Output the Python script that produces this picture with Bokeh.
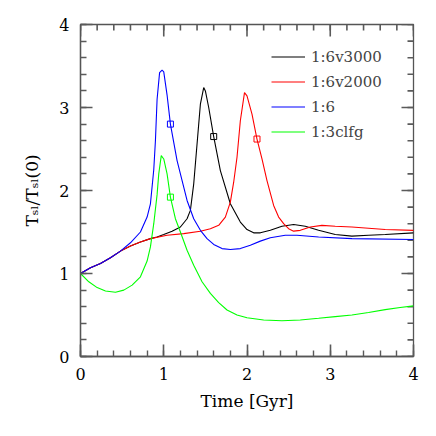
from bokeh.plotting import figure
from bokeh.models import LinearAxis, Range1d, Legend, LegendItem, FixedTicker
from bokeh.embed import file_html
from bokeh.resources import INLINE

# ---- data ----
t_v3000 = [0, 0.12, 0.24, 0.36, 0.48, 0.6, 0.72, 0.84, 0.92, 1.0, 1.1, 1.2, 1.28, 1.32, 1.36, 1.40, 1.44, 1.48,
           1.50, 1.54, 1.60, 1.68, 1.80, 1.92, 2.0, 2.08, 2.16, 2.28, 2.42, 2.56, 2.7, 2.86, 3.06, 3.26, 3.46, 3.66, 4.0]
y_v3000 = [1.0, 1.07, 1.12, 1.19, 1.27, 1.33, 1.38, 1.42, 1.44, 1.47, 1.51, 1.56, 1.66, 1.76, 2.08, 2.56, 3.04, 3.24,
           3.20, 3.0, 2.65, 2.24, 1.84, 1.62, 1.53, 1.49, 1.49, 1.52, 1.57, 1.59, 1.57, 1.52, 1.47, 1.45, 1.46, 1.47, 1.49]

t_v2000 = [0, 0.12, 0.24, 0.36, 0.48, 0.6, 0.72, 0.84, 1.04, 1.24, 1.44, 1.56, 1.66, 1.74, 1.80, 1.84, 1.88, 1.92,
           1.97, 2.0, 2.06, 2.12, 2.18, 2.24, 2.32, 2.38, 2.44, 2.50, 2.56, 2.64, 2.76, 2.9, 3.06, 3.26, 3.66, 4.0]
y_v2000 = [1.0, 1.07, 1.12, 1.19, 1.27, 1.33, 1.38, 1.42, 1.46, 1.48, 1.51, 1.54, 1.58, 1.68, 1.86, 2.1, 2.4, 2.84,
           3.18, 3.14, 2.92, 2.62, 2.38, 2.12, 1.82, 1.68, 1.60, 1.54, 1.51, 1.52, 1.56, 1.58, 1.57, 1.56, 1.53, 1.52]

t_16 = [0, 0.12, 0.24, 0.36, 0.48, 0.6, 0.72, 0.80, 0.84, 0.88, 0.90, 0.92, 0.95, 0.98, 1.0, 1.04, 1.08, 1.16, 1.28,
        1.36, 1.44, 1.52, 1.6, 1.7, 1.8, 1.92, 2.04, 2.16, 2.28, 2.46, 2.6, 2.86, 3.26, 4.0]
y_16 = [1.0, 1.07, 1.12, 1.19, 1.27, 1.37, 1.50, 1.68, 1.84, 2.25, 2.6, 3.1, 3.42, 3.45, 3.43, 3.15, 2.80, 2.36, 1.88,
        1.66, 1.52, 1.42, 1.35, 1.30, 1.29, 1.30, 1.34, 1.39, 1.43, 1.46, 1.46, 1.44, 1.42, 1.41]

t_13 = [0, 0.1, 0.2, 0.3, 0.42, 0.52, 0.62, 0.72, 0.80, 0.84, 0.88, 0.92, 0.94, 0.97, 1.0, 1.04, 1.08, 1.14, 1.2,
        1.28, 1.36, 1.46, 1.56, 1.66, 1.76, 1.88, 2.0, 2.2, 2.42, 2.64, 2.86, 3.06, 3.26, 3.46, 3.66, 3.84, 4.0]
y_13 = [1.0, 0.9, 0.83, 0.79, 0.775, 0.80, 0.86, 0.96, 1.15, 1.32, 1.6, 1.95, 2.2, 2.42, 2.38, 2.2, 1.92, 1.66, 1.50,
        1.28, 1.10, 0.90, 0.76, 0.65, 0.56, 0.50, 0.466, 0.44, 0.43, 0.44, 0.46, 0.48, 0.50, 0.53, 0.565, 0.59, 0.61]

series_names = ["1:6v3000", "1:6v2000", "1:6", "1:3clfg"]
series_colors = ["black", "#ff0000", "#0000ff", "#00ff00"]
marker_t = [1.60, 2.12, 1.08, 1.08]
marker_y = [2.65, 2.62, 2.80, 1.92]

x_ticks = [0, 1, 2, 3, 4]
y_ticks = [0, 1, 2, 3, 4]
minor_ticks = [round(i * 0.2, 2) for i in range(21)]

FONT = "DejaVu Serif"
AXC = "#555555"
TICKC = "#5a5a5a"
X0, X1, Y0, Y1 = 0, 4, 0, 4
W, H = 436, 436
BL, BR, BT, BB = 80, 23, 24, 80

p = figure(width=W, height=H, output_backend="svg", toolbar_location=None,
           x_range=Range1d(X0, X1), y_range=Range1d(Y0, Y1),
           min_border_left=BL, min_border_right=BR, min_border_top=BT, min_border_bottom=BB,
           x_axis_location=None, y_axis_location=None)
p.grid.visible = False
p.outline_line_color = AXC
p.outline_line_width = 1.3
p.background_fill_color = "white"
p.border_fill_color = "white"


def make_axis(ticks, label, standoff):
    ax = LinearAxis(ticker=FixedTicker(ticks=ticks, minor_ticks=minor_ticks))
    ax.major_tick_in = 12
    ax.major_tick_out = 0
    ax.minor_tick_in = 6
    ax.minor_tick_out = 0
    ax.axis_line_color = AXC
    ax.axis_line_width = 1.3
    ax.major_tick_line_color = TICKC
    ax.major_tick_line_width = 1.6
    ax.minor_tick_line_color = TICKC
    ax.minor_tick_line_width = 1.4
    ax.major_label_text_font = FONT
    ax.major_label_text_font_size = "16px"
    ax.major_label_text_color = "black"
    ax.major_label_standoff = 11
    ax.axis_label = label
    ax.axis_label_text_font = FONT
    ax.axis_label_text_font_size = "17px"
    ax.axis_label_text_font_style = "normal"
    ax.axis_label_text_color = "black"
    ax.axis_label_standoff = standoff
    return ax


p.add_layout(make_axis(x_ticks, "Time [Gyr]", 8), "below")
p.add_layout(make_axis(y_ticks, "T\u209b\u2097/T\u209b\u2097(0)", 14), "left")

# inward ticks on the top and right edges, built from the tick lists
FW, FH = W - BL - BR, H - BT - BB
dy = (Y1 - Y0) / FH   # data units per screen pixel (vertical)
dx = (X1 - X0) / FW   # data units per screen pixel (horizontal)
MAJ, MIN = 12, 6
tick_xs, tick_ys = [], []
for vals, ln in ((x_ticks, MAJ), (minor_ticks, MIN)):
    for v in vals:
        tick_xs.append([v, v]); tick_ys.append([Y1, Y1 - ln * dy])
for vals, ln in ((y_ticks, MAJ), (minor_ticks, MIN)):
    for v in vals:
        tick_xs.append([X1, X1 - ln * dx]); tick_ys.append([v, v])
p.multi_line(tick_xs, tick_ys, line_color=TICKC, line_width=1.6)

ts = [t_v3000, t_v2000, t_16, t_13]
ys = [y_v3000, y_v2000, y_16, y_13]
items = []
for name, col, t, y, mt, my in zip(series_names, series_colors, ts, ys, marker_t, marker_y):
    r = p.line(t, y, line_color=col, line_width=1.1)
    p.scatter([mt], [my], marker="square", size=6, fill_color=None, line_color=col, line_width=1)
    items.append(LegendItem(label=name, renderers=[r]))

legend = Legend(items=items, location=(191, 212), padding=0, margin=0, spacing=0,
                glyph_width=34, glyph_height=25, label_height=25, label_standoff=6,
                label_text_font=FONT, label_text_font_size="15px",
                border_line_color=None, background_fill_alpha=0)
p.add_layout(legend, "center")

open("out.html", "w").write(file_html(p, INLINE))
